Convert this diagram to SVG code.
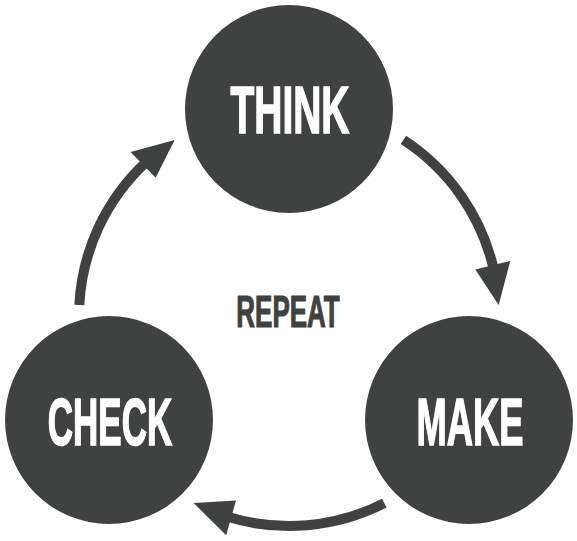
<svg xmlns="http://www.w3.org/2000/svg" xmlns:xlink="http://www.w3.org/1999/xlink" width="577" height="541" viewBox="0 0 577 541">
  <style>
    .node { fill: #404241; }
    .label { font-family: "Liberation Sans", Arial, sans-serif; font-weight: bold; fill: #ffffff; stroke: #ffffff; stroke-width: 1.6; font-size: 66px; text-anchor: middle; }
    .center { font-family: "Liberation Sans", Arial, sans-serif; font-weight: bold; fill: #404241; stroke: #404241; stroke-width: 1.2; font-size: 44px; text-anchor: middle; }
    .shaft { fill: none; stroke: #404241; stroke-width: 10; }
    .head { fill: #404241; }
  </style>
  <defs>
    <g id="arrow">
      <path class="shaft" d="M 403.4 139.9 A 210 210 0 0 1 493.6 268.8"/>
      <polygon class="head" points="475.3,269.6 510.3,260.8 498.7,305"/>
    </g>
  </defs>
  <rect width="577" height="541" fill="#ffffff"/>
  <g id="connectors">
    <use xlink:href="#arrow" href="#arrow"/>
    <use xlink:href="#arrow" href="#arrow" transform="rotate(120 289 316)"/>
    <use xlink:href="#arrow" href="#arrow" transform="rotate(240 289 316)"/>
  </g>
  <g id="think">
    <circle class="node" cx="289" cy="109" r="104"/>
    <text class="label" transform="translate(290 133) scale(0.59 1)">THINK</text>
  </g>
  <g id="make">
    <circle class="node" cx="469" cy="420" r="104"/>
    <text class="label" transform="translate(470 445) scale(0.55 1)">MAKE</text>
  </g>
  <g id="check">
    <circle class="node" cx="109" cy="420" r="104"/>
    <text class="label" transform="translate(110 445) scale(0.53 1)">CHECK</text>
  </g>
  <g id="repeat">
    <text class="center" transform="translate(288 327) scale(0.59 1)">REPEAT</text>
  </g>
</svg>
